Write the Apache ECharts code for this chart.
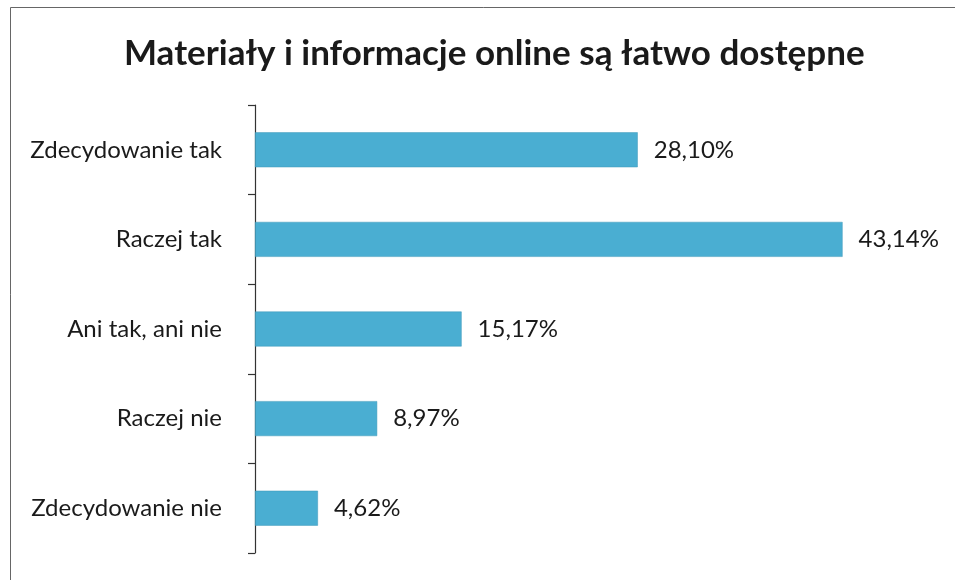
<!DOCTYPE html>
<html>
<head>
<meta charset="utf-8">
<script src="https://cdn.jsdelivr.net/npm/echarts@6/dist/echarts.min.js"></script>
<style>html,body{margin:0;padding:0;background:#fff;}#c{width:955px;height:580px;}</style>
</head>
<body>
<div id="c"></div>
<script>
const categories = ['Zdecydowanie tak', 'Raczej tak', 'Ani tak, ani nie', 'Raczej nie', 'Zdecydowanie nie'];
const values = [28.10, 43.14, 15.17, 8.97, 4.62];
const titleText = 'Materiały i informacje online są łatwo dostępne';

const chart = echarts.init(document.getElementById('c'));
const FONT = 'Lato';
chart.setOption({
  animation: false,
  backgroundColor: '#fff',
  graphic: [{
    type: 'rect', shape: { x: 10.5, y: 7.5, width: 1000, height: 700 },
    style: { fill: 'none', stroke: '#666', lineWidth: 1 }, silent: true
  }],
  title: {
    text: titleText, left: 119, top: 31,
    textStyle: { fontFamily: FONT, fontWeight: 'bold', fontSize: 35, color: '#1a1a1a' }
  },
  grid: { left: 255, right: 19, top: 105, bottom: 27, containLabel: false },
  xAxis: {
    type: 'value', min: 0, max: 50, show: false
  },
  yAxis: {
    type: 'category', data: categories, inverse: true,
    axisLine: { show: true, lineStyle: { color: '#333', width: 1.2 } },
    axisTick: { show: true, inside: false, length: 7, lineStyle: { color: '#333', width: 1.2 } },
    axisLabel: { margin: 33, fontFamily: FONT, fontSize: 24, color: '#1a1a1a' },
    splitLine: { show: false }
  },
  series: [{
    type: 'bar', data: values, barWidth: '39%',
    itemStyle: { color: '#4aaed2', borderColor: '#3f98b8', borderWidth: 0.5 },
    label: {
      show: true, position: 'right', distance: 16,
      fontFamily: FONT, fontSize: 24, color: '#1a1a1a',
      formatter: p => p.value.toFixed(2).replace('.', ',') + '%'
    }
  }]
});
</script>
</body>
</html>
